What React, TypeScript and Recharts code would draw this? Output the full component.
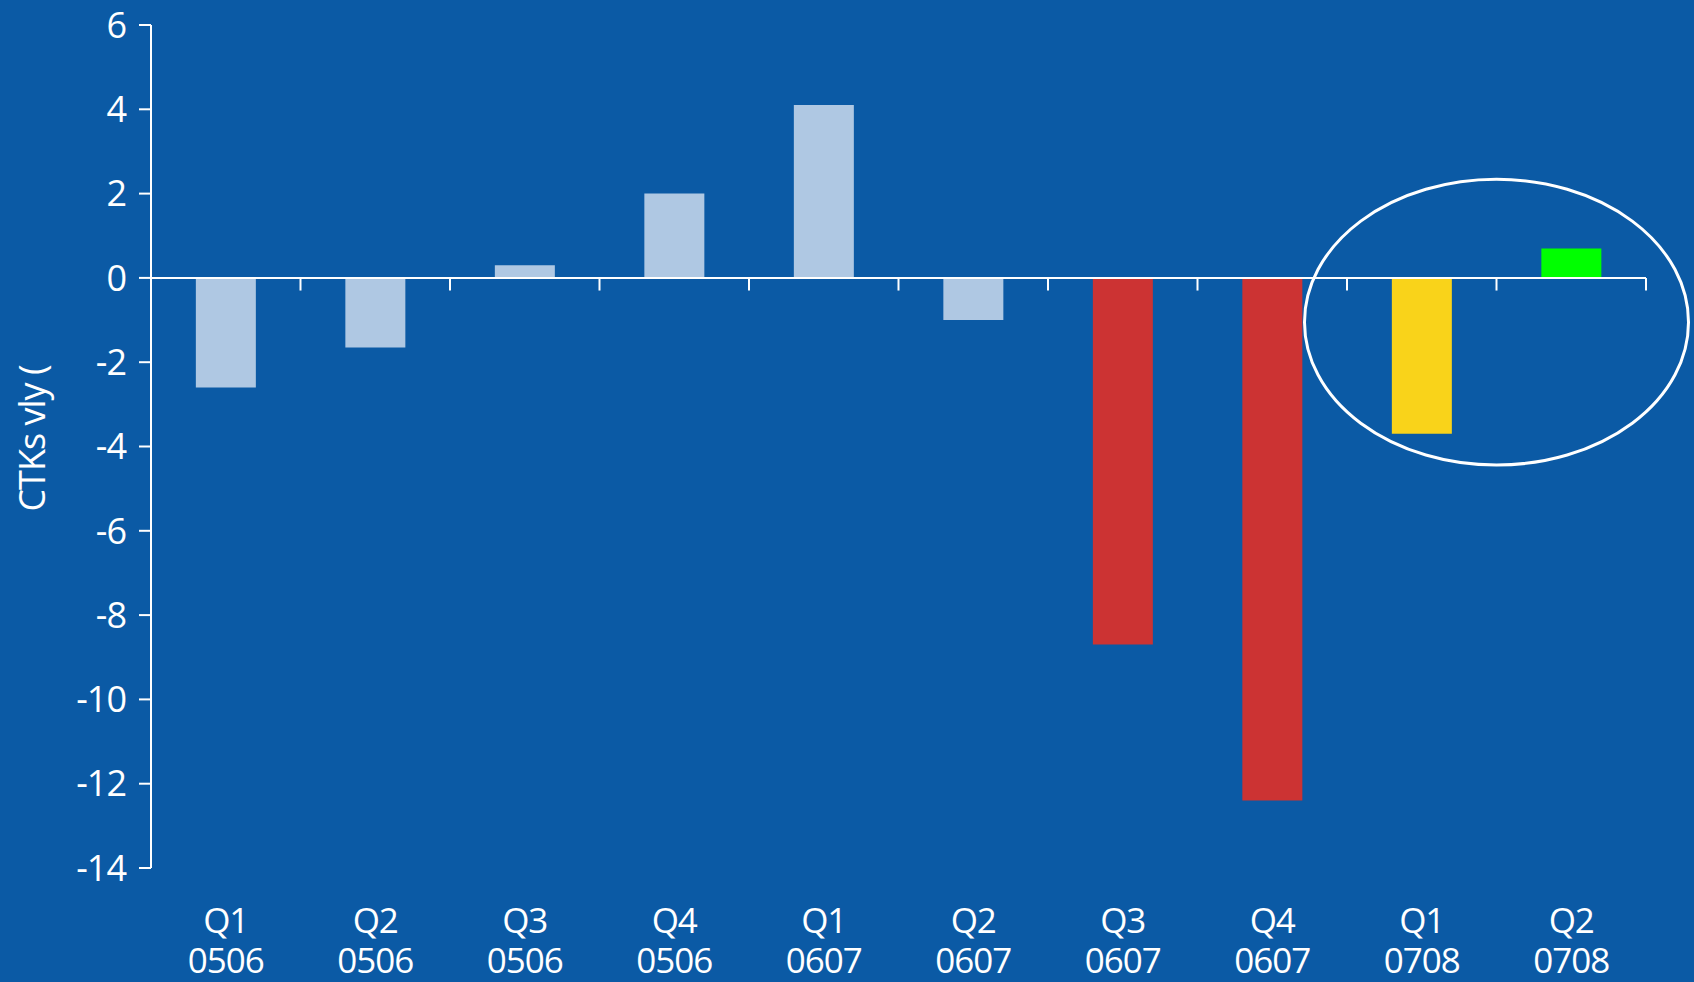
import React from 'react';
import { BarChart, Bar, XAxis, YAxis, Cell, ReferenceLine, ReferenceArea } from 'recharts';

const quarters = ['Q1', 'Q2', 'Q3', 'Q4', 'Q1', 'Q2', 'Q3', 'Q4', 'Q1', 'Q2'];
const years = ['0506', '0506', '0506', '0506', '0607', '0607', '0607', '0607', '0708', '0708'];
const ctkChange = [-2.6, -1.65, 0.3, 2.0, 4.1, -1.0, -8.7, -12.4, -3.7, 0.7];
const yTicks = [-14, -12, -10, -8, -6, -4, -2, 0, 2, 4, 6];

const barColors = [
  '#afc8e3', '#afc8e3', '#afc8e3', '#afc8e3', '#afc8e3', '#afc8e3',
  '#cc3333', '#cc3333', '#f9d31a', '#00ff00',
];

const data = quarters.map((q, i) => ({
  name: `${q} ${years[i]}`,
  value: ctkChange[i],
}));

// circled period: last two quarters
const highlightFrom = data[8].name;
const highlightTo = data[9].name;
const highlightTop = 2.34;
const highlightBottom = -4.44;

const BG = '#0b5aa5';
const FONT = "'Open Sans', sans-serif";

const QuarterTick = (props: any) => {
  const { x, y, payload } = props;
  const [q, yr] = String(payload.value).split(' ');
  return (
    <text x={x} textAnchor="middle" fill="#fff" fontSize={35} fontFamily={FONT} letterSpacing={-1}>
      <tspan x={x} y={y + 51} dominantBaseline="central">{q}</tspan>
      <tspan x={x} y={y + 91} dominantBaseline="central">{yr}</tspan>
    </text>
  );
};

const YLabel = (props: any) => {
  const { viewBox } = props;
  const cx = viewBox.x + 31;
  const cy = viewBox.y + viewBox.height / 2 - 8;
  return (
    <text
      x={cx}
      y={cy}
      transform={`rotate(-90, ${cx}, ${cy})`}
      textAnchor="middle"
      dominantBaseline="central"
      fill="#fff"
      fontSize={36}
      fontFamily={FONT}
      letterSpacing={-1}
    >
      CTKs vly (
    </text>
  );
};

const Ellipse = (props: any) => {
  const { x, y, width, height } = props;
  return (
    <ellipse
      cx={x + width / 2}
      cy={y + height / 2}
      rx={192}
      ry={height / 2}
      fill="none"
      stroke="#fff"
      strokeWidth={3}
    />
  );
};

export default function App() {
  return (
    <div style={{ position: 'fixed', top: 0, left: 0, width: 1694, height: 982, background: BG }}>
      <BarChart
        width={1694}
        height={982}
        data={data}
        margin={{ top: 25, right: 48, left: 0, bottom: 4 }}
        barCategoryGap="30%"
      >
        <XAxis
          dataKey="name"
          height={110}
          axisLine={false}
          tickLine={false}
          tickSize={0}
          tickMargin={0}
          interval={0}
          tick={<QuarterTick />}
        />
        <YAxis
          width={151}
          domain={[-14, 6]}
          ticks={yTicks}
          interval={0}
          axisLine={{ stroke: '#fff', strokeWidth: 2 }}
          tickLine={{ stroke: '#fff', strokeWidth: 2 }}
          tickSize={12}
          tickMargin={13}
          tick={{ fill: '#fff', fontSize: 36, fontFamily: FONT, letterSpacing: -1 }}
          label={<YLabel />}
        />
        <Bar dataKey="value" isAnimationActive={false}>
          {data.map((d, i) => (
            <Cell key={d.name} fill={barColors[i]} />
          ))}
        </Bar>
        <ReferenceLine y={0} stroke="#fff" strokeWidth={2} />
        {data.map((d) => (
          <ReferenceLine
            key={d.name}
            position="end"
            segment={[{ x: d.name, y: 0 }, { x: d.name, y: -0.3 }]}
            stroke="#fff"
            strokeWidth={2}
          />
        ))}
        <ReferenceArea
          x1={highlightFrom}
          x2={highlightTo}
          y1={highlightTop}
          y2={highlightBottom}
          ifOverflow="visible"
          shape={<Ellipse />}
        />
      </BarChart>
    </div>
  );
}
